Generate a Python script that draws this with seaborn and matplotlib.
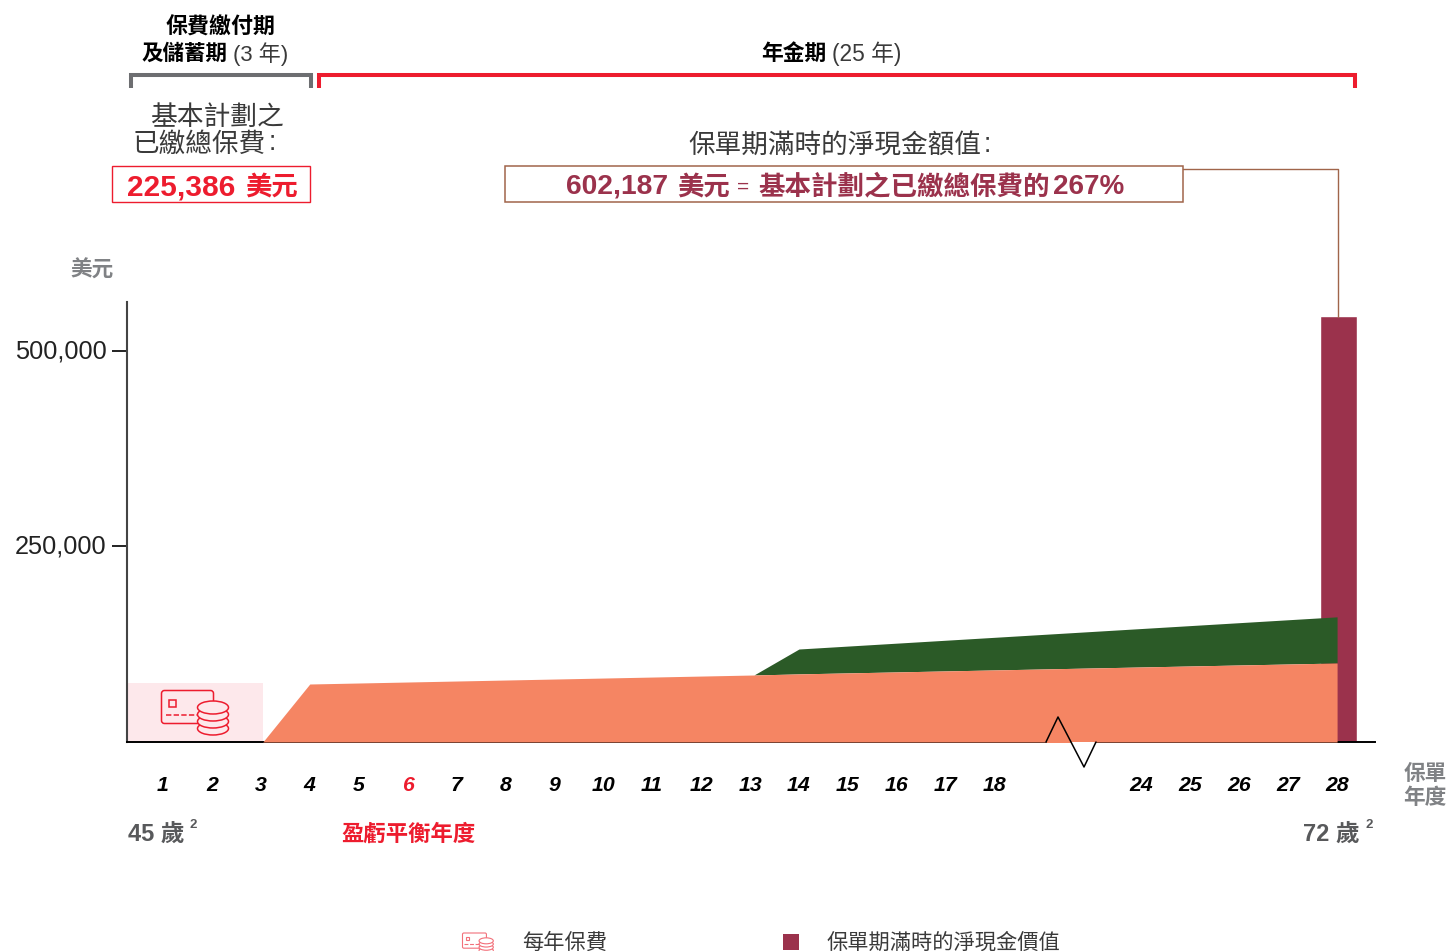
import matplotlib
matplotlib.use("Agg")
import matplotlib.pyplot as plt
import matplotlib.patches as mpatches
from matplotlib.transforms import ScaledTranslation
import pandas as pd
import seaborn as sns

sns.set_theme(style="white")
plt.rcParams['font.family'] = ['Liberation Sans', 'Noto Sans CJK TC']

# values
# slots: 1-18 sit on 0..17, then the axis break, 24-28 sit on 20..24
tick_slots = list(range(18)) + [20, 21, 22, 23, 24]
tick_labels = [str(y) for y in range(1, 19)] + ['24', '25', '26', '27', '28']
y_ticks = [250000, 500000]
y_labels = ['250,000', '500,000']

premium_slots = [-0.73, 2.04]
premium_values = [75400, 75400]

cash_slots = [2.04, 3, 12.08, 13, 24]
guaranteed_values = [0, 74100, 85600, 87000, 100900]
total_values = [0, 74100, 85600, 118800, 159900]

maturity_slot = [24.02]
maturity_value = [543600]

RED = '#ED1C2E'
GREY = '#6D6E71'
DARK_GREY = '#58595B'
TEXT = '#3A3A3A'
MAROON = '#9B324C'
GREEN = '#2B5A27'
ORANGE = '#F58563'
PINK = '#FDE8EB'
BROWN = '#A0654A'

W, H = 1448, 951
fig = plt.figure(figsize=(W / 100, H / 100), dpi=100, facecolor='white')
ax = fig.add_axes([127 / W, (H - 742) / H, (1375 - 127) / W, (742 - 302) / H])

# %%
# chart marks
maturity = pd.DataFrame({'slot': maturity_slot, 'value': maturity_value})
sns.barplot(data=maturity, x='slot', y='value', native_scale=True, width=0.757,
            color=MAROON, saturation=1, ax=ax, zorder=1)
ax.fill_between(premium_slots, 0, premium_values, color=PINK, lw=0, zorder=1)
ax.fill_between(cash_slots, guaranteed_values, total_values, color=GREEN, lw=0, zorder=2)
ax.fill_between(cash_slots, 0, guaranteed_values, color=ORANGE, lw=0, zorder=3)

ax.set_xlim((127 - 163) / 48.92, (1375 - 163) / 48.92)
ax.set_ylim(0, (742 - 302) / 195.7 * 250000)
ax.set_xlabel('')
ax.set_ylabel('')
ax.set_xticks(tick_slots, tick_labels, fontsize=15.3, fontweight='bold', style='italic', color='black')
ax.get_xticklabels()[5].set_color(RED)
ax.set_yticks(y_ticks, y_labels, fontsize=18.3, color='#222222')
ax.tick_params(axis='x', length=0, pad=24.5)
ax.tick_params(axis='y', length=10.8, width=1.4, color='#222222', pad=4, left=True)
for t in ax.get_yticklabels():
    t.set_transform(t.get_transform() + ScaledTranslation(0, 1.5 / 72, fig.dpi_scale_trans))
sns.despine(ax=ax)
ax.spines['left'].set_color('#444444')
ax.spines['left'].set_linewidth(1.5)
ax.spines['bottom'].set_color('black')
ax.spines['bottom'].set_linewidth(1.4)

# %%
# overlay in pixel coordinates for the annotations around the chart
ov = fig.add_axes([0, 0, 1, 1], zorder=5)
ov.set_xlim(0, W)
ov.set_ylim(H, 0)
ov.axis('off')
ov.patch.set_alpha(0)


def label(x, y, s, size, color='#222222', weight='normal', ha='left'):
    ov.text(x, y, s, fontsize=size, color=color, fontweight=weight, ha=ha, va='center')


def draw_icon(x, y, k, color, lw, bg):
    # card with a stack of coins on top of it
    ov.add_patch(mpatches.FancyBboxPatch((x, y), 52 * k, 33 * k, boxstyle=f'round,pad=0,rounding_size={3 * k}',
                                         fc='none', ec=color, lw=lw))
    ov.add_patch(mpatches.Rectangle((x + 7 * k, y + 9 * k), 7 * k, 7 * k, fc='none', ec=color, lw=lw))
    ov.plot([x + 4 * k, x + 36 * k], [y + 24 * k, y + 24 * k], color=color, lw=lw, ls=(0, (3.5, 1.5)))
    for dy in (38, 31, 24, 17):
        ov.add_patch(mpatches.Ellipse((x + 51.5 * k, y + dy * k), 31 * k, 13 * k, fc=bg, ec=color, lw=lw))


def bracket(x0, x1, color):
    ov.plot([x0, x0, x1, x1], [88, 74.5, 74.5, 88], color=color, lw=2.9, solid_joinstyle='miter', solid_capstyle='butt')


# period headers
label(221, 27.5, '保費繳付期', 15.8, 'black', 'bold', 'center')
label(141.5, 54.5, '及儲蓄期', 15.5, 'black', 'bold')
label(233, 54, '(3 年)', 15.9, TEXT)
label(761.5, 54.5, '年金期', 15.7, 'black', 'bold')
label(832, 54, '(25 年)', 16.4, TEXT)
bracket(131, 311, GREY)
bracket(319, 1355, RED)

# boxed totals
label(150.5, 117.5, '基本計劃之', 19.3, TEXT, 'light')
label(133, 144.5, '已繳總保費', 19.2, TEXT, 'light')
label(269, 143, ':', 19.2, TEXT, 'light')
ov.add_patch(mpatches.Rectangle((112, 165.5), 198, 36.5, fc='white', ec=RED, lw=1))
label(127, 187, '225,386', 21.5, RED, 'bold')
label(245, 187, '美元', 19, RED, 'bold')

label(688, 146, '保單期滿時的淨現金額值', 19.2, TEXT, 'light')
label(984, 144.5, ':', 19.2, TEXT, 'light')
ov.add_patch(mpatches.Rectangle((505, 165.5), 678, 36.5, fc='white', ec=BROWN, lw=1.1))
label(566, 187, '602,187', 20.3, MAROON, 'bold')
label(677, 187, '美元', 19, MAROON, 'bold')
label(737, 187, '=', 15, MAROON, 'normal')
label(758, 187, '基本計劃之已繳總保費的', 19.1, MAROON, 'bold')
label(1053, 187, '267%', 20, MAROON, 'bold')
ov.plot([1183, 1338, 1338], [169, 169, 317], color=BROWN, lw=1)

# axis captions
label(92.5, 271.5, '美元', 15.6, '#808285', 'bold', 'center')
label(128, 835, '45 歲', 17, DARK_GREY, 'bold')
label(189, 825, '2', 9.5, DARK_GREY, 'bold')
label(408, 835, '盈虧平衡年度', 16.1, RED, 'bold', 'center')
label(1303, 835, '72 歲', 17, DARK_GREY, 'bold')
label(1365, 825, '2', 9.5, DARK_GREY, 'bold')
label(1403.5, 775, '保單', 15.6, '#808285', 'bold')
label(1403.5, 799, '年度', 15.6, '#808285', 'bold')

# axis break
ov.add_patch(mpatches.Rectangle((1047, 740.5), 48, 2.5, fc=ORANGE, ec='none'))
ov.add_patch(mpatches.Polygon([(1071, 742), (1084, 767), (1095, 742)], fc='white', ec='none'))
ov.plot([1046, 1058, 1084, 1096], [742, 717, 767, 742], color='black', lw=1.1)

draw_icon(161.5, 690.5, 1, RED, 1.1, PINK)

# legend
draw_icon(462.5, 933, 0.46, '#F2707A', 0.8, 'white')
label(522, 943, '每年保費', 15.3, TEXT, 'light')
ov.add_patch(mpatches.Rectangle((783, 934), 16, 16, fc=MAROON, ec='none'))
label(827, 943, '保單期滿時的淨現金價值', 15.3, TEXT, 'light')

plt.savefig('out.png', dpi=100)
plt.close()
